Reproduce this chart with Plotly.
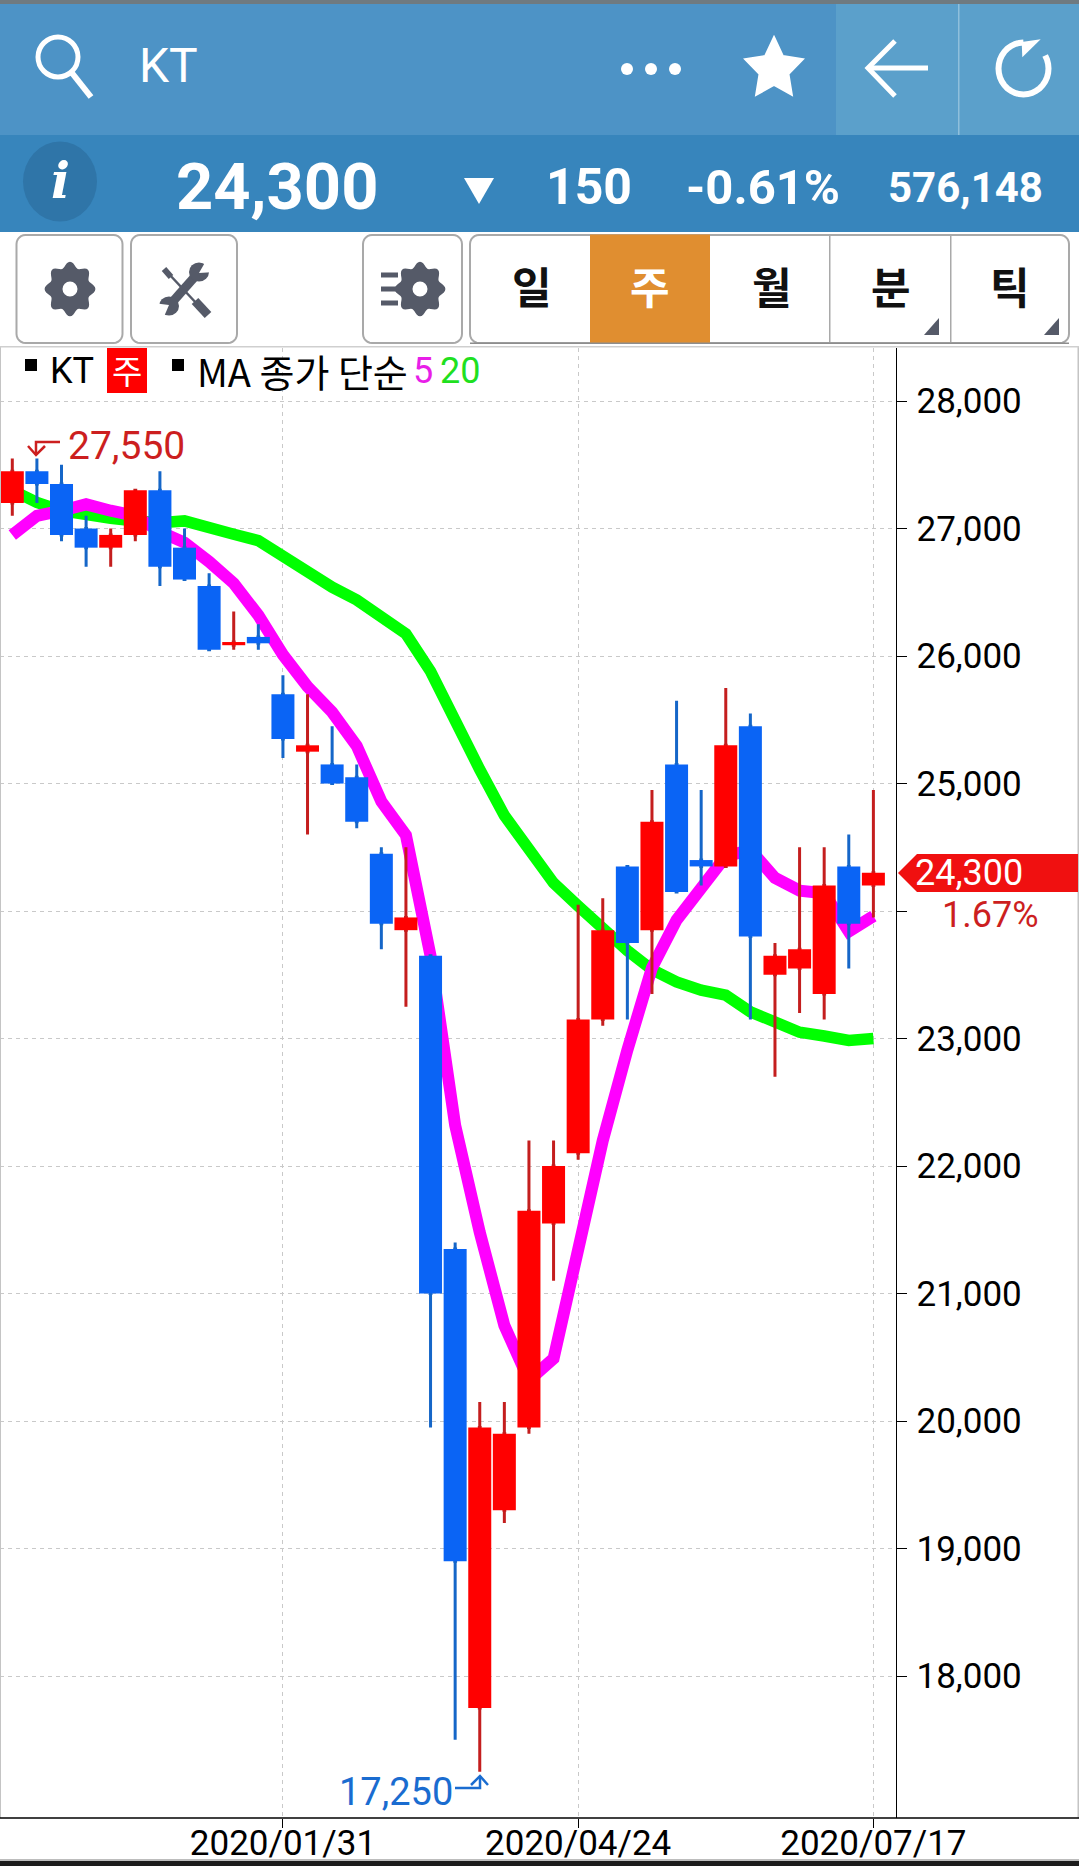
import math
import plotly.graph_objects as go

# ---------- data ----------
dates = ["2019-11-15","2019-11-22","2019-11-29","2019-12-06","2019-12-13","2019-12-20","2019-12-27",
         "2020-01-03","2020-01-10","2020-01-17","2020-01-24","2020-01-31","2020-02-07","2020-02-14",
         "2020-02-21","2020-02-28","2020-03-06","2020-03-13","2020-03-20","2020-03-27","2020-04-03",
         "2020-04-10","2020-04-17","2020-04-24","2020-05-01","2020-05-08","2020-05-15","2020-05-22",
         "2020-05-29","2020-06-05","2020-06-12","2020-06-19","2020-06-26","2020-07-03","2020-07-10","2020-07-17"]
opens  = [27200,27450,27350,27000,26850,26950,27300,26850,26550,26085,26150,25700,25250,25150,25050,24450,23850,
          23650,21350,17750,19300,19950,21550,22100,23150,24350,23850,25150,24400,24350,25450,23500,23550,23350,24350,24200]
closes = [27450,27350,26950,26850,26950,27300,26700,26600,26050,26110,26100,25350,25300,25000,24700,23900,23950,
          21000,18900,19950,19900,21650,22000,23150,23850,23750,24700,24150,24350,25300,23800,23650,23700,24200,23900,24300]
highs  = [27550,27550,27500,27100,27000,27300,27450,27000,26650,26350,26250,25850,25700,25450,25150,24500,24500,
          23650,21400,20150,20150,22200,22200,24050,24100,24350,24950,25650,24950,25750,25550,23750,24500,24500,24600,24950]
lows   = [27100,27200,26900,26700,26700,26900,26550,26600,26050,26050,26050,25200,24600,25000,24650,23700,23250,
          19950,17500,17250,19200,19900,21100,22050,23100,23150,23350,24150,24200,24350,23150,22700,23200,23150,23550,23950]
ma5    = [26950,27100,27140,27190,27140,27100,26975,26890,26740,26570,26320,26010,25760,25560,25295,24860,24595,
          23650,22320,21480,20750,20320,20490,21400,22200,22910,23555,23930,24195,24430,24480,24260,24160,24140,23840,23960]
ma20   = [27300,27205,27140,27100,27080,27060,27045,27060,27000,26955,26905,26780,26665,26540,26440,26300,26175,
          25880,25480,25110,24750,24470,24220,24040,23850,23690,23540,23445,23380,23340,23210,23130,23050,23020,22985,23000]
y_ticks = [28000,27000,26000,25000,24000,23000,22000,21000,20000,19000,18000]
y_labels = ["28,000","27,000","26,000","25,000","","23,000","22,000","21,000","20,000","19,000","18,000"]
x_ticks = ["2020-01-31","2020-04-24","2020-07-17"]
x_labels = ["2020/01/31","2020/04/24","2020/07/17"]

# ---------- page geometry ----------
W, H = 1079, 1866
AX_RIGHT, PLOT_TOP, PLOT_BOT = 895.5, 348, 1818
Y_RANGE = [16887, 28416]
X_RANGE = ["2019-11-11 12:00", "2020-07-23 07:00"]
RED, BLUE = "#ff0000", "#0a64f5"
WICK_RED, WICK_BLUE = "#c41e1e", "#1566c8"
LBL_RED, LBL_BLUE = "#cc1f1f", "#1a6cd0"
ICON = "#555a68"
FONT = "Roboto"
KR = "Noto Sans CJK KR"

def X(p): return p / W
def Y(p): return 1 - p / H
def poly(pts, close=False):
    s = "M" + " L".join(f"{X(a):.5f},{Y(b):.5f}" for a, b in pts)
    return s + (" Z" if close else "")

shapes, notes = [], []
def rect(x0, y0, x1, y1, fill=None, line=None, lw=0):
    shapes.append(dict(type="rect", xref="paper", yref="paper", x0=X(x0), x1=X(x1), y0=Y(y0), y1=Y(y1),
                       fillcolor=fill or "rgba(0,0,0,0)", line=dict(color=line or "rgba(0,0,0,0)", width=lw)))
def circ(cx, cy, rx, ry, fill=None, line=None, lw=0):
    shapes.append(dict(type="circle", xref="paper", yref="paper", x0=X(cx-rx), x1=X(cx+rx), y0=Y(cy-ry), y1=Y(cy+ry),
                       fillcolor=fill or "rgba(0,0,0,0)", line=dict(color=line or "rgba(0,0,0,0)", width=lw)))
def path(pts, color=None, lw=0, fill=None, close=False):
    shapes.append(dict(type="path", xref="paper", yref="paper", path=poly(pts, close),
                       fillcolor=fill or "rgba(0,0,0,0)", line=dict(color=color or "rgba(0,0,0,0)", width=lw)))
def txt(x, y, s, size, color="#000", anchor="center", font=FONT, bold=False):
    notes.append(dict(xref="paper", yref="paper", x=X(x), y=Y(y), text=f"<b>{s}</b>" if bold else s, showarrow=False,
                      xanchor=anchor, yanchor="middle", borderpad=0,
                      font=dict(family=font, size=size, color=color)))
def rrect(x0, y0, x1, y1, r=9, color="#a9a9a9", lw=2, fill="#ffffff"):
    pts = []
    for cx, cy, a0 in ((x1-r, y0+r, -90), (x1-r, y1-r, 0), (x0+r, y1-r, 90), (x0+r, y0+r, 180)):
        for k in range(7):
            t = math.radians(a0 + k * 15)
            pts.append((cx + r * math.cos(t), cy + r * math.sin(t)))
    path(pts, color, lw, fill, True)
def gear(cx, cy, hole=7.5):
    pts = []
    for k in range(96):
        t = math.radians(k * 3.75)
        rad = 24.5 + 2.8 * math.cos(8 * (t + math.pi / 2))
        pts.append((cx + rad * math.cos(t) * 0.93, cy + rad * math.sin(t)))
    path(pts, None, 0, ICON, True)
    circ(cx, cy, hole, hole, "#ffffff")

# ---------- header ----------
rect(0, 0, W, 4, "#6f7a80")
rect(0, 4, W, 135, "#4d93c6")
rect(836, 4, W, 135, "#5ba0cb")
rect(958, 4, 959.5, 135, "#8fbfdc")
rect(0, 135, W, 232, "#3785bc")
# search icon
circ(58, 57, 20, 20, None, "#ffffff", 5)
path([(72, 73), (91, 97)], "#ffffff", 6)
txt(168, 66, "KT", 48, "#ffffff")
for dx in (627, 651, 675):
    circ(dx, 69, 6, 6, "#ffffff")
star = []
for i in range(10):
    t = math.radians(-90 + 36 * i)
    rad = 32 if i % 2 == 0 else 16
    star.append((774 + rad * math.cos(t) * 0.95, 69 + rad * math.sin(t)))
path(star, "#ffffff", 2, "#ffffff", True)
path([(895, 41), (868, 68), (895, 96)], "#ffffff", 5)
path([(868, 68), (928, 68)], "#ffffff", 5)
arc = [(1023.5 + 25 * math.cos(math.radians(a)), 68.5 + 26 * math.sin(math.radians(a))) for a in range(-30, 271, 10)]
path(arc, "#ffffff", 6)
path([(1040.7, 39.3), (1021.7, 42), (1022.3, 57.3)], None, 0, "#ffffff", True)
# info bar
circ(60, 181.5, 37, 40, "#2f75a8")
txt(60, 181, "<i>i</i>", 50, "#ffffff", font="DejaVu Serif", bold=True)
txt(277, 187, "24,300", 65, "#ffffff", bold=True)
path([(464, 178), (494, 178), (479, 204)], None, 0, "#ffffff", True)
txt(589, 187, "150", 50, "#ffffff", bold=True)
txt(763, 187, "-0.61%", 49, "#ffffff", bold=True)
txt(965, 187, "576,148", 42, "#ffffff", bold=True)

# ---------- toolbar ----------
rrect(16.5, 235, 122.5, 343)
rrect(131, 235, 237, 343)
rrect(363, 235, 462, 343)
rrect(470, 235, 1069, 343)
rect(590, 234.5, 710, 343.5, "#e08e30")
for dx in (829, 950):
    rect(dx, 235, dx + 1.5, 343, "#a9a9a9")
rect(470, 342.5, 1069, 344, "#8d8d8d")
for cx, s, col in ((532, "일", "#111111"), (650, "주", "#ffffff"), (772, "월", "#111111"), (891, "분", "#111111"), (1010, "틱", "#111111")):
    txt(cx, 285, s, 43, col, font=KR, bold=True)
for x0 in (924, 1044):
    path([(x0, 335), (x0 + 15, 335), (x0 + 15, 318)], None, 0, ICON, True)
gear(70, 289)
gear(420, 289)
for yy in (275, 289, 303):
    path([(381, yy), (398, yy)], ICON, 5)
# tools icon: screwdriver then wrench
path([(164, 269), (171, 277)], ICON, 6)
path([(168, 273), (198, 305)], ICON, 2.5)
path([(195, 301), (208, 315)], ICON, 9)
path([(168, 307), (199, 272)], ICON, 9)
circ(199, 272, 10, 9.5, ICON)
circ(169, 306, 10, 9.5, ICON)
path([(199, 273), (207, 259), (215, 272)], None, 0, "#ffffff", True)
path([(169, 305), (153, 303), (163, 319)], None, 0, "#ffffff", True)

# ---------- legend ----------
rect(25, 359, 37, 371, "#000000")
txt(49, 371, "KT", 36, "#000000", "left")
rect(107, 348, 147, 393, "#ff0000")
txt(127, 370, "주", 33, "#ffffff", font=KR)
rect(172, 359, 184, 371, "#000000")
txt(196, 371, "MA 종가 단순", 38, "#000000", "left", KR)
txt(412, 371, "5", 36, "#e81ee8", "left")
txt(439, 371, "20", 36, "#1fe01f", "left")

# ---------- chart frame ----------
rect(0, 346.5, 1, PLOT_BOT, "#c4c4c4")
rect(1077.5, 346.5, 1079, PLOT_BOT, "#c4c4c4")
rect(0, 346, W, 347.5, "#cfcfcf")
rect(0, PLOT_BOT - 0.8, W, PLOT_BOT + 0.8, "#000000")
rect(0, 1859, W, 1861, "#bdbdbd")
rect(0, 1861, W, H, "#1c1c1c")

# ---------- chart labels ----------
notes.append(dict(xref="x", yref="y", x=dates[1], y=highs[1], text="27,550", showarrow=False, xanchor="left", yanchor="middle",
                  xshift=29, yshift=12, font=dict(family=FONT, size=39, color=LBL_RED)))
notes.append(dict(xref="x", yref="y", x=dates[19], y=lows[19], text="17,250", showarrow=False, xanchor="right", yanchor="middle",
                  xshift=-25, yshift=-20, font=dict(family=FONT, size=38, color=LBL_BLUE)))
path([(60, 442), (36, 442), (36, 455)], LBL_RED, 2.5)
path([(28, 446), (36, 455), (45, 446)], LBL_RED, 2.5)
path([(455, 1788), (480, 1788), (480, 1776)], LBL_BLUE, 2.5)
path([(471, 1785), (480, 1776), (488, 1785)], LBL_BLUE, 2.5)
path([(898, 873), (917, 854), (1078, 854), (1078, 892), (917, 892)], None, 0, "#f01010", True)
notes.append(dict(xref="paper", yref="y", x=X(913), y=closes[-1], text="24,300", showarrow=False, xanchor="left", yanchor="middle",
                  font=dict(family=FONT, size=36, color="#ffffff")))
txt(941, 915, "1.67%", 36, LBL_RED, "left")

# ---------- traces ----------
fig = go.Figure()
fig.add_trace(go.Scatter(x=dates, y=ma20, mode="lines", line=dict(color="#00ff00", width=11.5), hoverinfo="skip", name="MA20"))
fig.add_trace(go.Scatter(x=dates, y=ma5, mode="lines", line=dict(color="#ff00ff", width=12), hoverinfo="skip", name="MA5"))
# wicks come from a candlestick trace, solid bodies are painted over it
fig.add_trace(go.Candlestick(x=dates, open=opens, high=highs, low=lows, close=closes, yaxis="y2", hoverinfo="skip", name="KT",
                             whiskerwidth=0,
                             increasing=dict(line=dict(color=WICK_RED, width=3), fillcolor=WICK_RED),
                             decreasing=dict(line=dict(color=WICK_BLUE, width=3), fillcolor=WICK_BLUE)))
body_low = [min(o, c) for o, c in zip(opens, closes)]
body_h = [abs(c - o) for o, c in zip(opens, closes)]
body_col = [RED if c >= o else BLUE for o, c in zip(opens, closes)]
WEEK_MS = 7 * 24 * 3600 * 1000
fig.add_trace(go.Bar(x=dates, y=body_h, base=body_low, width=0.935 * WEEK_MS, yaxis="y3", hoverinfo="skip",
                     marker=dict(color=body_col, line=dict(width=0)), name="body"))

grid = "#c9c9c9"
fig.update_layout(
    template="none",
    width=W, height=H, margin=dict(l=0, r=0, t=0, b=0, pad=0, autoexpand=False), paper_bgcolor="#ffffff", plot_bgcolor="#ffffff",
    showlegend=False, barmode="overlay", boxmode="overlay", boxgap=0.95,
    font=dict(family=FONT, color="#000000"),
    xaxis=dict(type="date", domain=[0, AX_RIGHT / W], range=X_RANGE, rangeslider=dict(visible=False), automargin=False,
               tickmode="array", tickvals=x_ticks, ticktext=x_labels, ticks="outside", ticklen=9, tickcolor="#000000",
               tickfont=dict(family=FONT, size=35, color="#000000"), ticklabelstandoff=-15,
               showgrid=True, gridcolor=grid, griddash="4px,4px",
               gridwidth=1, showline=False, zeroline=False, anchor="y"),
    yaxis=dict(domain=[1 - PLOT_BOT / H, 1 - PLOT_TOP / H], range=Y_RANGE, side="right", anchor="x", automargin=False,
               tickmode="array", tickvals=y_ticks, ticktext=y_labels, ticks="outside", ticklen=10, tickcolor="#000000",
               tickfont=dict(family=FONT, size=35, color="#000000"), ticklabelstandoff=3,
               showgrid=True, gridcolor=grid, griddash="4px,4px", gridwidth=1,
               showline=True, linecolor="#000000", linewidth=1, zeroline=False),
    yaxis2=dict(overlaying="y", range=Y_RANGE, visible=False, anchor="x", side="right"),
    yaxis3=dict(overlaying="y", range=Y_RANGE, visible=False, anchor="x", side="right"),
    shapes=shapes, annotations=notes,
)
fig.write_html("out.html", config=dict(displayModeBar=False),
               post_script="document.body.style.margin='0';document.documentElement.style.overflow='hidden';")
